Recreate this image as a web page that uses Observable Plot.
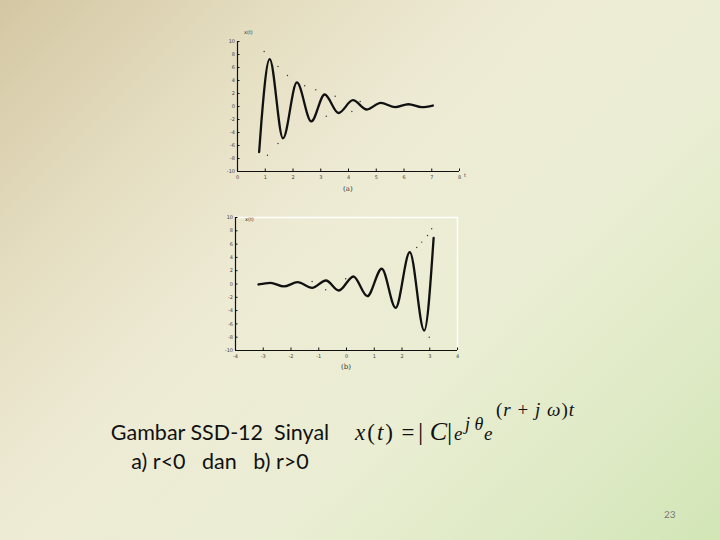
<!DOCTYPE html>
<html><head><meta charset="utf-8">
<script src="https://cdn.jsdelivr.net/npm/d3@7"></script>
<script src="https://cdn.jsdelivr.net/npm/@observablehq/plot@0.6"></script>
<style>
html,body{margin:0;padding:0}
body{width:720px;height:540px;position:relative;overflow:hidden;
background:linear-gradient(135deg,#d4c7a3 0%,#e4ddc0 22%,#eeebd5 42%,#eaeed3 65%,#dde9c4 85%,#d2e6b6 100%);}
.abs{position:absolute;white-space:pre}
.cap{font-family:"DejaVu Serif";font-size:7px;color:#333}
.lbl{font-family:"DejaVu Sans";font-size:5px;color:#333}
.title{font-family:Lato;font-size:21.5px;color:#111;text-align:center;line-height:29px}
.eq{font-family:"Liberation Serif";color:#111;line-height:1;font-style:italic}
.eq .u{font-style:normal}
</style></head><body>
<div id="pa" class="abs" style="left:206px;top:25px"></div>
<div id="pb" class="abs" style="left:206px;top:200px"></div>
<div class="abs lbl" style="left:244px;top:29px">x(t)</div>
<div class="abs lbl" style="left:464px;top:172px">t</div>
<div class="abs cap" style="left:343px;top:185px">(a)</div>
<div class="abs lbl" style="left:245px;top:216px">x(t)</div>
<div class="abs cap" style="left:341px;top:363px">(b)</div>
<div class="abs title" style="left:99px;top:418px;width:242px">Gambar SSD-12  Sinyal
a) r&lt;0   dan   b) r&gt;0</div>
<div class="abs eq" style="left:355px;top:421px;font-size:23px;letter-spacing:2px">x<span class="u">(</span>t<span class="u" style="letter-spacing:0">)</span></div>
<div class="abs eq u" style="left:400px;top:421px;font-size:23px">=</div>
<div class="abs eq" style="left:418px;top:419px;font-size:26px"><span class="u">|</span> C<span class="u">|</span></div>
<div class="abs eq" style="left:454px;top:424px;font-size:19px">e</div>
<div class="abs eq" style="left:465px;top:415px;font-size:18px">j <span>θ</span></div>
<div class="abs eq" style="left:484px;top:424px;font-size:19px">e</div>
<div class="abs eq" style="left:496px;top:400px;font-size:19px;letter-spacing:1px"><span class="u">(</span>r <span class="u">+</span> j ω<span class="u">)</span>t</div>
<div class="abs" style="left:664px;top:508px;font-family:Lato;font-size:10px;color:#777">23</div>
<script>
// (a) r<0 : decaying oscillation
const tA = [0.78, 0.86, 1.16, 1.64, 2.14, 2.66, 3.14, 3.64, 4.16, 4.66, 5.16, 5.68, 6.16, 6.64, 7.04];
const xA = [-7.0, -2.4, 7.3, -4.9, 3.7, -2.3, 1.85, -1.0, 0.97, -0.46, 0.56, -0.1, 0.35, -0.1, 0.15];
const envAt = [0.96, 1.46, 1.80, 2.42, 2.82, 3.52, 4.42, 1.08, 1.46, 3.2, 4.12];
const envAv = [8.46, 6.15, 4.77, 3.2, 2.57, 1.58, 0.77, -7.5, -5.7, -1.5, -0.77];
const ticksXA = [0, 1, 2, 3, 4, 5, 6, 7, 8];

// (b) r>0 : growing oscillation
const tB = [-3.17, -2.74, -2.26, -1.76, -1.24, -0.74, -0.28, 0.25, 0.75, 1.27, 1.77, 2.28, 2.8, 3.14];
const xB = [-0.07, 0.18, -0.37, 0.27, -0.57, 0.53, -0.98, 1.13, -1.83, 2.29, -3.58, 4.78, -7.0, 6.95];
const envBt = [3.07, 2.92, 2.71, 2.53, 2.98, -0.03, -0.75, -1.24];
const envBv = [8.3, 7.3, 6.3, 5.5, -8.0, 0.78, -0.87, 0.38];
const ticksXB = [-4, -3, -2, -1, 0, 1, 2, 3, 4];

const ticksY = [-10, -8, -6, -4, -2, 0, 2, 4, 6, 8, 10];

function makePlot(tData, vData, et, ev, xTicks, m, frame) {
  const curve = tData.map((t, i) => ({t, v: vData[i]}));
  const env = et.map((t, i) => ({t, v: ev[i]}));
  const xd = [xTicks[0], xTicks[xTicks.length - 1]];
  return Plot.plot({
    width: 270, height: m.h,
    marginLeft: m.l, marginRight: m.r, marginTop: m.t, marginBottom: m.b,
    style: {background: "transparent", fontFamily: "DejaVu Sans", fontSize: "5px", color: "#444", overflow: "visible"},
    x: {domain: xd},
    y: {domain: [-10, 10]},
    marks: [
      frame ? Plot.ruleY([10], {stroke: "#ffffff", strokeWidth: 1.5}) : null,
      frame ? Plot.ruleX([xd[1]], {stroke: "#ffffff", strokeWidth: 1.5}) : null,
      Plot.axisX({ticks: xTicks, tickSize: -2.5, tickPadding: 6, tickFormat: d => String(d), stroke: "#111", label: null}),
      Plot.axisY({ticks: ticksY, tickSize: -2.5, tickPadding: 5, tickFormat: d => String(d), stroke: "#111", label: null}),
      Plot.ruleX([xd[0]], {stroke: "#111", strokeWidth: 1.2}),
      Plot.ruleY([-10], {stroke: "#111", strokeWidth: 1.2}),
      Plot.dot(env, {x: "t", y: "v", r: 0.7, fill: "#333", stroke: null}),
      Plot.line(curve, {x: "t", y: "v", curve: "monotone-x", stroke: "#111", strokeWidth: 2.3})
    ]
  });
}

document.getElementById("pa").appendChild(
  makePlot(tA, xA, envAt, envAv, ticksXA, {h: 175, l: 31, r: 17, t: 16, b: 29}, false));
document.getElementById("pb").appendChild(
  makePlot(tB, xB, envBt, envBv, ticksXB, {h: 180, l: 29, r: 19, t: 17, b: 30}, true));
</script>
</body></html>
